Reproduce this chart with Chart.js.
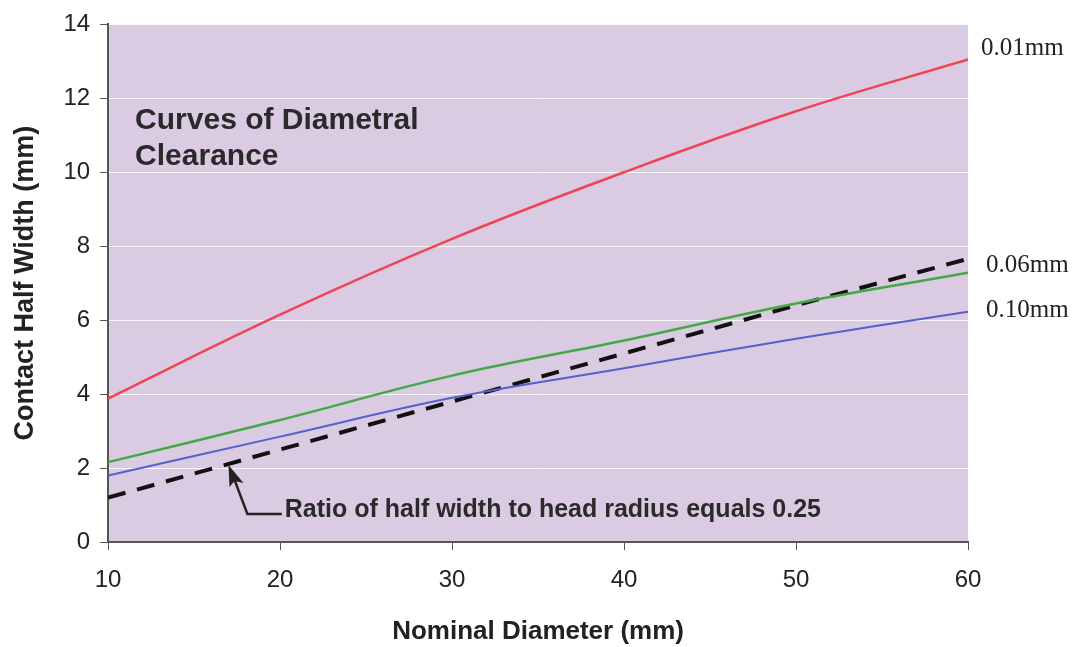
<!DOCTYPE html>
<html>
<head>
<meta charset="utf-8">
<script src="https://cdn.jsdelivr.net/npm/chart.js@4.4.0/dist/chart.umd.min.js"></script>
<style>
  body { margin: 0; background: #fff; }
  #wrap { width: 1075px; height: 647px; }
</style>
</head>
<body>
<div id="wrap"><canvas id="chart"></canvas></div>
<script>
const diameters = [10, 20, 30, 40, 50, 60];
const clear001 = [3.88, 6.15, 8.2, 10.0, 11.65, 13.05];
const clear006 = [2.16, 3.3, 4.5, 5.45, 6.45, 7.28];
const clear010 = [1.8, 2.85, 3.9, 4.7, 5.5, 6.23];
const ratio025 = [1.2, 2.5, 3.8, 5.1, 6.4, 7.66];
const seriesLabels = ["0.01mm", "0.06mm", "0.10mm"];

const toXY = (arr) => arr.map((v, i) => ({ x: diameters[i], y: v }));

// background, right-side labels, annotation text and arrow
const extras = {
  id: "extras",
  beforeDraw(chart) {
    const { ctx, chartArea: a } = chart;
    ctx.save();
    ctx.fillStyle = "#dacbe3";
    ctx.fillRect(a.left, a.top, a.right - a.left, a.bottom - a.top);
    ctx.restore();
  },
  afterDraw(chart) {
    const { ctx, scales } = chart;
    const x = scales.x, y = scales.y;
    ctx.save();
    // curve labels
    ctx.fillStyle = "#222";
    ctx.font = "25px 'Liberation Serif', serif";
    ctx.textBaseline = "middle";
    ctx.fillText(seriesLabels[0], 981, 48);
    ctx.fillText(seriesLabels[1], 986, 265);
    ctx.fillText(seriesLabels[2], 986, 310);

    // title inside the plot
    ctx.font = "bold 30px 'Liberation Sans', Arial, sans-serif";
    ctx.fillStyle = "#2a2a2a";
    ctx.textBaseline = "alphabetic";
    ctx.fillText("Curves of Diametral", x.getPixelForValue(11.57), y.getPixelForValue(11.17));
    ctx.fillText("Clearance", x.getPixelForValue(11.57), y.getPixelForValue(10.2));

    // arrow
    const tipX = x.getPixelForValue(17.0), tipY = y.getPixelForValue(2.08);
    const kneeX = x.getPixelForValue(18.1), kneeY = y.getPixelForValue(0.76);
    const endX = x.getPixelForValue(20.1);
    ctx.strokeStyle = "#222";
    ctx.lineWidth = 2.5;
    ctx.beginPath();
    ctx.moveTo(tipX + 5, tipY + 12);
    ctx.lineTo(kneeX, kneeY);
    ctx.lineTo(endX, kneeY);
    ctx.stroke();
    ctx.fillStyle = "#222";
    ctx.beginPath();
    ctx.moveTo(tipX, tipY);
    ctx.lineTo(tipX + 1, tipY + 22);
    ctx.lineTo(tipX + 6, tipY + 16);
    ctx.lineTo(tipX + 15, tipY + 18);
    ctx.closePath();
    ctx.fill();

    ctx.font = "bold 25px 'Liberation Sans', Arial, sans-serif";
    ctx.textBaseline = "alphabetic";
    ctx.fillStyle = "#2a2a2a";
    ctx.fillText("Ratio of half width to head radius equals 0.25", endX + 3, kneeY + 3);
    ctx.restore();
  }
};

new Chart(document.getElementById("chart"), {
  type: "line",
  data: {
    datasets: [
      { label: seriesLabels[0], data: toXY(clear001), borderColor: "#ee4455", borderWidth: 2.5, tension: 0.4, pointRadius: 0 },
      { label: seriesLabels[1], data: toXY(clear006), borderColor: "#44a844", borderWidth: 2.5, tension: 0.4, pointRadius: 0 },
      { label: seriesLabels[2], data: toXY(clear010), borderColor: "#5560cc", borderWidth: 2, tension: 0.4, pointRadius: 0 },
      { label: "ratio 0.25", data: toXY(ratio025), borderColor: "#111", borderWidth: 4, borderDash: [18, 12], tension: 0, pointRadius: 0 }
    ]
  },
  options: {
    responsive: true,
    maintainAspectRatio: false,
    animation: false,
    layout: { padding: { top: 10, right: 107, left: 9, bottom: 0 } },
    plugins: { legend: { display: false }, tooltip: { enabled: false } },
    scales: {
      x: {
        type: "linear",
        min: 10,
        max: 60,
        ticks: { stepSize: 10, color: "#222", font: { family: "'Liberation Sans', Arial", size: 24 }, padding: 16 },
        grid: { drawOnChartArea: false, color: "#555", tickLength: 8, tickColor: "#555" },
        border: { color: "#555", width: 2 },
        title: { display: true, text: "Nominal Diameter (mm)", color: "#222", font: { family: "'Liberation Sans', Arial", size: 26, weight: "bold" }, padding: { top: 5, bottom: 0 } }
      },
      y: {
        min: 0,
        max: 14,
        ticks: { stepSize: 2, color: "#222", font: { family: "'Liberation Sans', Arial", size: 24 }, padding: 10 },
        grid: { color: "rgba(255,255,255,0.8)", lineWidth: 1, tickLength: 8, tickColor: "#555" },
        border: { color: "#555", width: 2 },
        title: { display: true, text: "Contact Half Width (mm)", color: "#222", font: { family: "'Liberation Sans', Arial", size: 27, weight: "bold" }, padding: { top: 0, bottom: 12 } }
      }
    }
  },
  plugins: [extras]
});
</script>
</body>
</html>
